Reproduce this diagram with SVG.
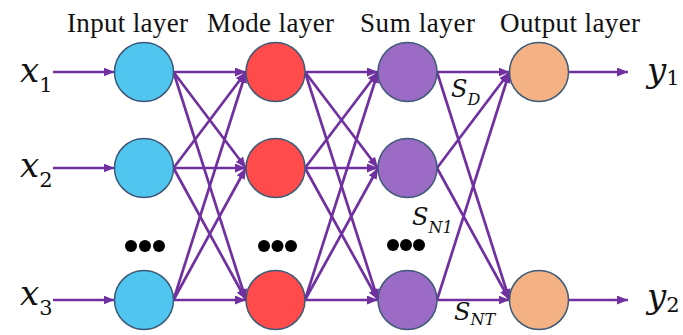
<svg xmlns="http://www.w3.org/2000/svg" width="683" height="335" viewBox="0 0 683 335">
<style>
.c line{stroke:#7030A0;stroke-width:2.7;fill:none;marker-end:url(#ah)}
.n{stroke:#3D5A78;stroke-width:1.5}
.in{fill:#4FC5F0}.md{fill:#FF4B4B}.sm{fill:#9B6BC6}.op{fill:#F4B183}
.h{font-family:"Liberation Serif",serif;font-size:27px;fill:#111;text-anchor:middle}
.m{font-family:"DejaVu Serif",serif;font-style:italic;fill:#111}
.dot{fill:#000}
</style>
<defs>
<marker id="ah" markerUnits="userSpaceOnUse" markerWidth="11" markerHeight="9" refX="11" refY="4.5" orient="auto">
<path d="M0,0 L11,4.5 L0,9 z" fill="#7030A0"/>
</marker>
</defs>
<g id="headers">
<text class="h" x="127.5" y="32" textLength="121">Input layer</text>
<text class="h" x="270.5" y="32" textLength="127">Mode layer</text>
<text class="h" x="417.5" y="32" textLength="115">Sum layer</text>
<text class="h" x="570" y="32" textLength="140">Output layer</text>
</g>
<g id="connectors" class="c">
<line x1="53" y1="72" x2="114.5" y2="72"/>
<line x1="53" y1="168" x2="114.5" y2="168"/>
<line x1="53" y1="300" x2="114.5" y2="300"/>
<line x1="173.5" y1="72" x2="246" y2="72"/>
<line x1="173.5" y1="72" x2="246" y2="168"/>
<line x1="173.5" y1="72" x2="246" y2="300"/>
<line x1="173.5" y1="168" x2="246" y2="72"/>
<line x1="173.5" y1="168" x2="246" y2="168"/>
<line x1="173.5" y1="168" x2="246" y2="300"/>
<line x1="173.5" y1="300" x2="246" y2="72"/>
<line x1="173.5" y1="300" x2="246" y2="168"/>
<line x1="173.5" y1="300" x2="246" y2="300"/>
<line x1="305" y1="72" x2="378" y2="72"/>
<line x1="305" y1="72" x2="378" y2="168"/>
<line x1="305" y1="72" x2="378" y2="300"/>
<line x1="305" y1="168" x2="378" y2="72"/>
<line x1="305" y1="168" x2="378" y2="168"/>
<line x1="305" y1="168" x2="378" y2="300"/>
<line x1="305" y1="300" x2="378" y2="72"/>
<line x1="305" y1="300" x2="378" y2="168"/>
<line x1="305" y1="300" x2="378" y2="300"/>
<line x1="437" y1="72" x2="509.5" y2="72"/>
<line x1="437" y1="72" x2="509.5" y2="300"/>
<line x1="437" y1="168" x2="509.5" y2="72"/>
<line x1="437" y1="168" x2="509.5" y2="300"/>
<line x1="437" y1="300" x2="509.5" y2="72"/>
<line x1="437" y1="300" x2="509.5" y2="300"/>
<line x1="568.5" y1="72" x2="628" y2="72"/>
<line x1="568.5" y1="300" x2="628" y2="300"/>
</g>
<g id="in1"><circle class="n in" cx="144" cy="72" r="29.5"/></g>
<g id="in2"><circle class="n in" cx="144" cy="168" r="29.5"/></g>
<g id="in3"><circle class="n in" cx="144" cy="300" r="29.5"/></g>
<g id="mode1"><circle class="n md" cx="275.5" cy="72" r="29.5"/></g>
<g id="mode2"><circle class="n md" cx="275.5" cy="168" r="29.5"/></g>
<g id="mode3"><circle class="n md" cx="275.5" cy="300" r="29.5"/></g>
<g id="sum1"><circle class="n sm" cx="407.5" cy="72" r="29.5"/></g>
<g id="sum2"><circle class="n sm" cx="407.5" cy="168" r="29.5"/></g>
<g id="sum3"><circle class="n sm" cx="407.5" cy="300" r="29.5"/></g>
<g id="out1"><circle class="n op" cx="539" cy="72" r="29.5"/></g>
<g id="out2"><circle class="n op" cx="539" cy="300" r="29.5"/></g>
<g id="ellipses">
<circle class="dot" cx="131" cy="246" r="6"/><circle class="dot" cx="145" cy="246" r="6"/><circle class="dot" cx="159" cy="246" r="6"/>
<circle class="dot" cx="264" cy="246" r="6"/><circle class="dot" cx="277.5" cy="246" r="6"/><circle class="dot" cx="291" cy="246" r="6"/>
<circle class="dot" cx="393" cy="245" r="6"/><circle class="dot" cx="406" cy="245" r="6"/><circle class="dot" cx="419" cy="245" r="6"/>
</g>
<g id="labels">
<text class="m" x="20" y="82" font-size="34">x<tspan font-style="normal" font-size="21" dy="10">1</tspan></text>
<text class="m" x="20" y="177" font-size="34">x<tspan font-style="normal" font-size="21" dy="10">2</tspan></text>
<text class="m" x="20" y="305" font-size="34">x<tspan font-style="normal" font-size="21" dy="10">3</tspan></text>
<text class="m" x="647" y="82" font-size="34">y<tspan font-style="normal" font-size="21" dy="3">1</tspan></text>
<text class="m" x="647" y="308" font-size="34">y<tspan font-style="normal" font-size="21" dy="4">2</tspan></text>
<text class="m" x="451" y="97" font-size="24">S<tspan font-size="16" dy="8">D</tspan></text>
<text class="m" x="412" y="225" font-size="24">S<tspan font-size="16" dy="8">N1</tspan></text>
<text class="m" x="454" y="320" font-size="24">S<tspan font-size="16" dy="5">NT</tspan></text>
</g>
</svg>
